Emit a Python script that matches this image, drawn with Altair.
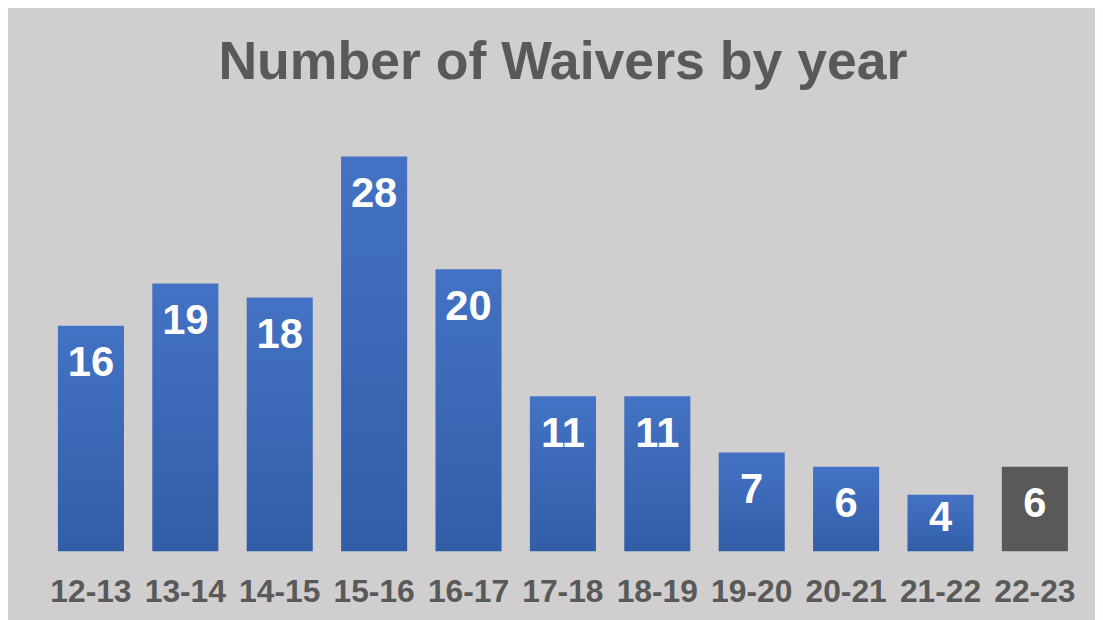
import altair as alt
import pandas as pd

years = ["12-13", "13-14", "14-15", "15-16", "16-17", "17-18", "18-19", "19-20", "20-21", "21-22", "22-23"]
waivers = [16, 19, 18, 28, 20, 11, 11, 7, 6, 4, 6]
current_year = "22-23"

df = pd.DataFrame({"year": years, "waivers": waivers})

FONT = "Liberation Sans"
GREY = "#595959"

x = alt.X("year:N", sort=years, title=None,
          scale=alt.Scale(paddingInner=0.3, paddingOuter=0.15),
          axis=alt.Axis(labelAngle=0, labelFont=FONT, labelFontSize=32, labelFontWeight="bold",
                        labelColor=GREY, domain=False, ticks=False, tickSize=0, labelPadding=26,
                        labelBaseline="top"))
y = alt.Y("waivers:Q", title=None, scale=alt.Scale(domain=[0, 30], nice=False),
          axis=None)

base = alt.Chart(df).encode(x=x, y=y)

blue = base.transform_filter(alt.datum.year != current_year).mark_bar(
    color=alt.Gradient(gradient="linear", x1=0, x2=0, y1=0, y2=1,
                       stops=[alt.GradientStop(color="#4472c4", offset=0),
                              alt.GradientStop(color="#325ea8", offset=1)]))
dark = base.transform_filter(alt.datum.year == current_year).mark_bar(color=GREY)

# labels sit inside the bar end; very short bars keep the label fitted inside
labels = alt.Chart(df).transform_calculate(
    label_y="max(datum.waivers, 5)"
).mark_text(font=FONT, fontSize=42, fontWeight="bold", color="white",
            baseline="alphabetic", dy=51).encode(
    x=x,
    y=alt.Y("label_y:Q", scale=alt.Scale(domain=[0, 30], nice=False), axis=None),
    text="waivers:Q")

chart = alt.layer(blue, dark, labels).properties(
    width=1046, height=426,
    background="#d0cece",
    padding={"left": 36, "top": 119, "right": 13, "bottom": 67},
    autosize=alt.AutoSizeParams(type="none"),
    title=alt.TitleParams("Number of Waivers by year", font=FONT, fontSize=54, fontWeight="bold",
                          color=GREY, anchor="middle", baseline="alphabetic", offset=-4),
).configure_view(stroke=None)

chart.save("out.html", embed_options={"renderer": "svg", "actions": False})
